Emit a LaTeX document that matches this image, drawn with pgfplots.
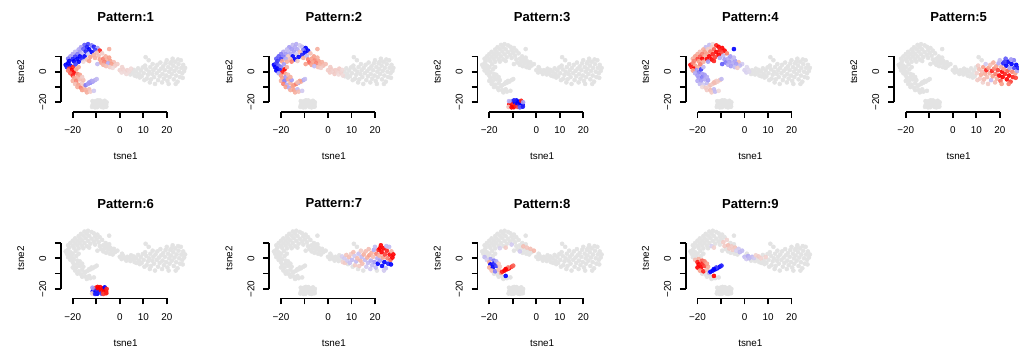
\documentclass[border=0pt]{standalone}
\usepackage{pgfplots}
\pgfplotsset{compat=1.18}
\usepackage{pgfplotstable}
\usepackage{fontspec}
\setmainfont{Liberation Sans}
\definecolor{greyc}{RGB}{227,227,227}

\pgfplotstableread{
x y a b c d e f g h i
-15 17.5 -0.7 -0.3 9 -0.3 9 9 9 9 9
-13.5 18 -0.8 -0.4 9 0.1 9 9 9 9 9
-12 17.2 -0.6 -0.2 9 0.9 9 9 9 9 9
-16.5 16 -0.5 -0.5 9 -0.3 9 9 9 9 9
-14 16 -0.9 -0.4 9 0.2 9 9 9 9 9
-11 16.3 -0.9 -0.3 9 1 9 9 9 9 9
-9.5 15.5 -0.5 -1 9 1 9 9 9 9 9
-17.5 14.5 -0.4 -0.3 9 0.4 9 9 9 9 9
-15.5 14.8 -0.7 -0.5 9 0.2 9 9 9 9 9
-13 14.6 -1 -0.4 9 0.7 9 9 9 9 9
-10.5 14.2 -0.8 -0.6 9 0.9 9 9 9 9 9
-8.5 13.8 0.9 -1 9 1 9 9 9 9 9
-19 13 -0.3 -0.4 9 0.3 9 9 9 9 9
-17 13 -0.5 -0.3 9 0.5 9 9 9 9 9
-14.5 13.2 -0.9 -0.5 9 0.6 9 9 9 9 9
-12 12.8 -1 0.3 9 1 9 9 9 9 9
-9.8 12.4 0.3 -1 9 0.8 9 9 9 9 9
-20 11.5 -0.4 -0.6 9 0.4 9 9 9 9 9
-18 11.5 -0.6 -0.5 9 0.6 9 9 9 9 9
-16 11.8 -0.3 -0.4 9 0.5 9 9 9 9 9
-13.5 11.4 -0.2 -0.2 9 0.9 9 9 9 9 9
-11 11 0.4 -0.9 9 1 9 9 9 9 9
-21 10 -0.5 -0.7 9 0.5 9 9 9 9 9
-19 9.8 -0.8 -0.6 9 0.7 9 9 9 9 9
-17 10 -1 0.2 9 0.4 9 9 9 9 9
-15 10 -1 -1 9 1 9 9 9 9 9
-12.5 9.6 0.5 -1 9 0.8 9 9 9 9 9
-22 8.5 -0.6 -0.7 9 0.4 9 9 9 9 9
-20 8.2 -0.9 -0.8 9 0.8 9 9 9 9 9
-18 8.4 -1 -0.4 9 1 9 9 9 9 9
-16 8.2 -0.9 0.3 9 1 9 9 9 9 9
-14 8 0.3 -1 9 1 9 9 9 9 -0.15
-21.5 7 -1 -0.8 9 0.6 9 9 9 9 9
-19.5 6.8 -1 0.5 9 0.5 9 9 9 9 9
-17.5 6.5 -1 0.4 9 0.4 9 9 9 9 9
-15.5 6.6 0.1 0.6 9 -0.5 9 9 9 -0.15 9
-13 7 0.5 0.2 9 0.9 9 9 9 0.2 0.15
-10.5 9 0.4 0.4 9 -0.4 9 9 9 -0.2 9
-9 10.5 0.3 -0.3 9 -0.3 9 9 9 9 0.2
-7.5 12 0.2 0.3 9 0.6 9 9 9 9 0.15
-4.5 14.8 0.4 0.4 9 -1 9 9 9 9 9
-8.5 8 0.5 0.6 9 -0.5 9 9 9 9 0.2
-7 8.5 0.6 0.5 9 -0.4 9 9 9 9 0.3
-5.5 7.8 0.4 0.6 9 -0.3 9 9 9 0.3 0.2
-4 7 0.5 0.5 9 -0.5 9 9 9 0.25 0.25
-2.5 6.2 0.3 0.4 9 0.3 9 9 9 0.3 -0.2
-1 5 0.2 0.3 9 -0.2 9 9 9 0.35 -0.3
-8 6 0.5 0.7 9 -0.6 9 9 9 9 9
-6.5 6.4 0.6 0.5 9 -0.5 9 9 9 9 0.2
-5 5.5 -0.4 0.6 9 -0.4 9 9 9 9 0.2
-3.5 5 0.5 0.4 9 -0.5 9 9 9 9 -0.15
-2 4 0.2 0.3 9 -0.3 9 9 9 9 -0.3
-7 4.5 0.4 0.5 9 -0.4 9 9 9 -0.2 9
-5.8 3.6 0.3 -0.3 9 -0.5 9 9 9 9 9
-4.2 3 0.2 0.3 9 -0.3 9 9 9 9 9
-9.5 5 -0.3 0.5 9 -0.7 9 9 9 9 9
-3 2.5 0.1 0.2 9 0.2 9 9 9 9 9
-6 10 0.4 0.5 9 -0.5 9 9 9 9 9
-4.5 9.2 0.5 0.4 9 -0.3 9 9 9 9 9
-23 4.5 -1 -1 9 1 9 9 9 9 9
-22 5.5 -1 -0.8 9 0.6 9 9 9 9 9
-22.5 3 -0.9 -1 9 0.9 9 9 9 9 9
-21 4 -1 -0.7 9 0.5 9 9 9 9 9
-21.5 2 0.8 -1 9 1 9 9 9 9 9
-20 3 0.9 -0.6 9 0.4 9 9 9 9 9
-20.5 1 1 -0.9 9 -0.5 9 9 9 9 9
-22 0.8 0.6 -1 9 0.5 9 9 9 -0.3 9
-19.5 -0.5 1 0.9 9 -0.6 9 9 9 -0.5 0.4
-21 -1 0.7 -0.4 9 -0.4 9 9 9 -0.2 0.3
-20 -2.5 0.9 0.5 9 -0.5 9 9 9 0.4 0.9
-18.5 1.5 0.5 1 9 -0.8 9 9 9 9 9
-18.8 4.8 -0.8 -0.5 9 0.6 9 9 9 9 9
-17.5 3 0.4 0.4 9 -0.3 9 9 9 9 9
-18 -1.5 0.6 0.5 9 -0.5 9 9 9 -0.6 0.7
-19.5 -4 0.5 0.5 9 -0.5 9 9 9 -1 1
-18 -3.5 0.4 -0.5 9 -0.6 9 9 9 -0.9 0.9
-20 -6 0.4 0.4 9 -0.4 9 9 9 0.4 1
-18.5 -6 0.6 -0.6 9 -0.5 9 9 9 -1 1
-17 -5 0.3 0.5 9 -0.4 9 9 9 -0.8 0.8
-19 -8 0.3 0.6 9 -0.3 9 9 9 0.3 0.5
-17.5 -8.5 0.5 -0.4 9 -0.2 9 9 9 -0.6 0.9
-16 -7.5 0.2 0.4 9 -0.3 9 9 9 0.3 0.3
-18 -10 0.4 0.5 9 0.1 9 9 9 9 9
-16.5 -10.5 0.6 -0.4 9 0.2 9 9 9 9 9
-15 -9.5 0.3 0.5 9 0.15 9 9 9 0.5 -0.4
-16 -12 0.5 0.4 9 0.2 9 9 9 9 9
-14.5 -12 0.4 0.5 9 0.3 9 9 9 9 9
-13 -11.5 0.3 -0.3 9 -0.3 9 9 9 -1 1
-14 -13.5 0.4 0.4 9 0.2 9 9 9 9 9
-12.5 -13 0.2 0.3 9 -0.3 9 9 9 9 9
-11 -12.5 -0.2 -0.2 9 0.1 9 9 9 9 9
-15.5 -5.5 0.3 -0.5 9 -0.5 9 9 9 0.2 0.4
-17 -2 0.5 0.3 9 -0.5 9 9 9 -0.4 0.6
-16 -3.5 0.2 0.4 9 -0.4 9 9 9 0.2 0.5
-14.5 -8.8 -0.6 0.5 9 0.25 9 9 9 0.9 -1
-13.5 -8 -0.5 0.6 9 0.2 9 9 9 1 -1
-12.5 -7.2 -0.6 -0.4 9 0.3 9 9 9 1 -1
-11.5 -6.5 -0.5 0.4 9 0.2 9 9 9 1 -1
-10.5 -5.5 -0.4 -0.4 9 0.25 9 9 9 0.8 -1
-12 -6 -0.4 0.5 9 0.2 9 9 9 0.6 -0.8
-13 -7 -0.5 0.3 9 0.3 9 9 9 1 -1
-9.8 -4.8 -0.3 -0.3 9 -0.3 9 9 9 0.7 -0.9
0 1 0.15 0.2 9 -0.15 9 9 9 9 -0.3
0.8 -0.5 0.1 0.2 9 -0.15 9 9 9 9 -0.2
1.5 1.5 0.15 0.2 9 -0.1 9 9 9 9 -0.4
2 0 0.1 0.15 9 -0.1 9 9 9 9 -0.3
2.8 -1.5 0.1 0.2 9 9 9 9 9 9 9
3.2 1 0.15 0.2 9 9 9 9 9 9 -0.3
4 0.2 0.1 0.15 9 9 9 9 9 9 -0.2
4.5 -1.8 9 0.1 9 9 9 9 9 9 9
4.8 2 0.1 0.2 9 9 9 9 9 9 0.15
5.5 -0.5 9 0.15 9 9 9 9 9 9 9
1 3 0.15 0.2 9 -0.1 9 9 9 9 9
6 1.2 9 0.1 9 9 9 9 -0.15 9 0.2
6.3 -2.5 9 0.1 9 9 9 9 0.15 9 9
7 0 9 9 9 9 9 9 -0.2 9 0.15
7.2 -3 9 9 9 9 9 9 0.2 9 9
7.8 2.2 9 9 9 9 9 9 0.25 9 9
8.2 -1.5 9 9 9 9 9 9 -0.2 9 9
8.5 -3.8 9 9 9 9 9 9 9 9 9
9 0.8 9 9 9 9 9 9 0.3 9 0.15
9.3 -3 9 9 9 9 9 9 -0.25 9 9
9.8 2.8 9 9 9 9 9 9 0.2 9 9
10.5 -5.5 9 9 9 9 0.2 9 9 9 9
10.2 -1 9 9 9 9 0.15 9 -0.3 9 9
10.8 4 9 9 9 9 0.2 9 0.3 9 9
11 9.5 9 9 9 9 9 9 9 9 9
11.3 1.5 9 9 9 9 0.3 9 -0.2 9 9
11.5 -4.5 9 9 9 9 0.2 9 0.2 9 9
12 -2 9 9 9 9 0.4 9 -0.3 9 9
12.3 7.5 9 9 9 9 9 9 9 9 9
12.5 0 9 9 9 9 0.3 9 0.3 9 9
12.8 -7 9 9 9 9 0.15 9 9 9 9
13 3 9 9 9 9 0.5 9 -0.25 9 9
13.3 -5 9 9 9 9 0.3 9 0.2 9 9
13.8 -1.5 9 9 9 9 0.4 9 0.35 9 9
14 5 9 9 9 9 -0.2 9 0.2 9 9
14.3 1 9 9 9 9 0.9 9 -0.3 9 9
14.6 -3.5 9 9 9 9 0.3 9 0.3 9 9
15 -8 9 9 9 9 0.2 9 9 9 9
15.2 2.5 9 9 9 9 0.5 9 0.4 9 9
15.7 -1 9 9 9 9 0.4 9 -0.3 9 9
16 4.5 9 9 9 9 0.3 9 0.3 9 9
16.3 -5.5 9 9 9 9 -0.3 9 -0.2 9 9
16.7 0.5 9 9 9 9 0.9 9 0.4 9 9
17 -3 9 9 9 9 0.5 9 -0.3 9 9
17.3 6 9 9 9 9 0.4 9 0.3 9 9
17.6 2 9 9 9 9 0.6 9 0.5 9 9
18 -7 9 9 9 9 0.3 9 -0.2 9 9
18.2 -1.5 9 9 9 9 0.6 9 -0.4 9 9
18.5 3.5 9 9 9 9 0.5 9 0.4 9 9
18.8 -4.5 9 9 9 9 0.4 9 -0.3 9 9
19.2 1 9 9 9 9 0.8 9 0.3 9 9
19.5 5.5 9 9 9 9 -0.4 9 -0.4 9 9
19.8 -2.5 9 9 9 9 1 9 -0.5 9 9
20 7.5 9 9 9 9 -0.3 9 -0.3 9 9
20.3 -6 9 9 9 9 0.7 9 -0.3 9 9
20.6 3 9 9 9 9 0.4 9 0.6 9 9
21 0 9 9 9 9 1 9 -0.4 9 9
21.2 -3.5 9 9 9 9 1 9 -1 9 9
21.5 5.5 9 9 9 9 -0.9 9 0.9 9 9
21.8 1.8 9 9 9 9 0.5 9 0.4 9 9
22.2 -1.5 9 9 9 9 0.9 9 -0.5 9 9
22.5 8.5 9 9 9 9 -0.7 9 1 9 9
22.8 4 9 9 9 9 -1 9 1 9 9
23 -5 9 9 9 9 1 9 -1 9 9
23.3 0.5 9 9 9 9 0.7 9 0.5 9 9
23.6 6.5 9 9 9 9 -1 9 1 9 9
24 -2.5 9 9 9 9 1 9 -1 9 9
24.2 2.5 9 9 9 9 -0.5 9 0.8 9 9
24.6 -6.5 9 9 9 9 0.8 9 -0.3 9 9
25 5 9 9 9 9 -1 9 0.9 9 9
25.3 0 9 9 9 9 0.6 9 0.6 9 9
25.6 -3.5 9 9 9 9 0.9 9 -0.9 9 9
26 7.5 9 9 9 9 -0.6 9 -0.3 9 9
26.2 2.5 9 9 9 9 -0.8 9 1 9 9
26.6 -1 9 9 9 9 0.5 9 0.7 9 9
27 4.5 9 9 9 9 -1 9 0.4 9 9
27.4 0.5 9 9 9 9 -0.4 9 1 9 9
27.8 2.5 9 9 9 9 -0.9 9 1 9 9
26.8 -4 9 9 9 9 0.8 9 -1 9 9
22 6.5 9 9 9 9 -0.8 9 1 9 9
24.8 8 9 9 9 9 -0.5 9 -0.3 9 9
20.8 -8 9 9 9 9 0.5 9 9 9 9
23.8 -8 9 9 9 9 0.6 9 -0.2 9 9
-11.5 -21.5 9 9 1 9 9 -1 9 9 9
-11 -20 9 9 0.8 9 9 -0.7 9 9 9
-10.8 -22.5 9 9 1 9 9 -1 9 9 9
-10.2 -19.2 9 9 -0.6 9 9 0.8 9 9 9
-9.8 -21 9 9 0.9 9 9 -0.9 9 9 9
-9.6 -23.2 9 9 1 9 9 -1 9 9 9
-9.1 -20 9 9 -1 9 9 1 9 9 9
-8.8 -22 9 9 0.9 9 9 -0.9 9 9 9
-8.4 -18.8 9 9 -1 9 9 1 9 9 9
-8 -21 9 9 -1 9 9 1 9 9 9
-7.8 -23 9 9 0.8 9 9 -0.8 9 9 9
-7.3 -19.6 9 9 -1 9 9 1 9 9 9
-7 -22 9 9 -0.9 9 9 0.9 9 9 9
-6.7 -20.6 9 9 -1 9 9 1 9 9 9
-6.4 -19 9 9 0.9 9 9 -1 9 9 9
-6.1 -22.8 9 9 -0.8 9 9 0.8 9 9 9
-5.8 -21.5 9 9 -1 9 9 1 9 9 9
-5.6 -20 9 9 -0.5 9 9 0.9 9 9 9
-11.8 -23 9 9 0.25 9 9 0.2 9 9 9
-10.5 -23.3 9 9 1 9 9 -0.9 9 9 9
-7 -23.3 9 9 -0.7 9 9 0.8 9 9 9
-9.4 -18.7 9 9 -0.9 9 9 1 9 9 9
-11.6 -19.2 9 9 -0.4 9 9 -0.5 9 9 9
-5.7 -22.8 9 9 -0.9 9 9 0.9 9 9 9
}\pts

\pgfplotsset{
  colormap={pat}{rgb255=(0,0,255) rgb255=(165,155,245) rgb255=(238,232,236) rgb255=(248,160,140) rgb255=(255,0,0)},
  panel/.style={
    scale only axis, width=96.94pt, height=59.9pt,
    anchor=south west,
    xmin=-25, xmax=30, ymin=-26.2, ymax=26,
    clip=false, axis line style={draw=none},
    xtick={-20,-10,0,10,20}, xticklabels={−20,,0,10,20},
    ytick={-20,-10,0,10}, yticklabels={−20,,0,},
    xtick pos=left, ytick pos=left,
    tick align=outside, major tick length=4.5pt,
    tick style={black, line width=1.3pt},
    tick label style={font=\fontsize{7.4}{8}\selectfont},
    yticklabel style={rotate=90, anchor=south},
    xticklabel shift=3pt, yticklabel shift=3pt,
    xlabel={tsne1}, ylabel={tsne2},
    label style={font=\fontsize{7.4}{8}\selectfont},
    xlabel style={at={(axis description cs:0.5,-0.5543)}, anchor=center},
    ylabel style={at={(axis description cs:-0.312,0.5)}, anchor=center},
    title style={font=\bfseries\fontsize{9.8}{11}\selectfont, at={(axis description cs:0.5,1.0876)}, anchor=center},
    point meta min=-1, point meta max=1,
    colormap name=pat,
  },
}

\newcommand{\panel}[4]{%
\begin{axis}[panel, at={(#1,#2)}, title={Pattern:#4}]
\addplot[only marks, mark=*, mark size=1.5pt, color=greyc, mark options={draw=greyc, fill=greyc},
  restrict expr to domain={\thisrow{#3}}{8:10}] table[x=x,y=y]{\pts};
\addplot[scatter, only marks, mark=*, mark size=1.5pt,
  scatter/use mapped color={draw=mapped color, fill=mapped color, opacity=0.9},
  point meta=\thisrow{#3},
  restrict expr to domain={\thisrow{#3}}{-2:2}] table[x=x,y=y]{\pts};
\draw[line width=1.3pt] (axis cs:-20,-26.2) -- (axis cs:20,-26.2);
\draw[line width=1.3pt] (axis cs:-25,-20) -- (axis cs:-25,10);
\end{axis}}

\begin{document}
\begin{tikzpicture}
\path[use as bounding box] (0,0) rectangle (764.25pt,261.75pt);
\panel{45.75pt}{177.9pt}{a}{1}
\panel{201.94pt}{177.9pt}{b}{2}
\panel{358.13pt}{177.9pt}{c}{3}
\panel{514.31pt}{177.9pt}{d}{4}
\panel{670.5pt}{177.9pt}{e}{5}
\panel{45.75pt}{37.95pt}{f}{6}
\panel{201.94pt}{37.95pt}{g}{7}
\panel{358.13pt}{37.95pt}{h}{8}
\panel{514.31pt}{37.95pt}{i}{9}
\end{tikzpicture}
\end{document}
